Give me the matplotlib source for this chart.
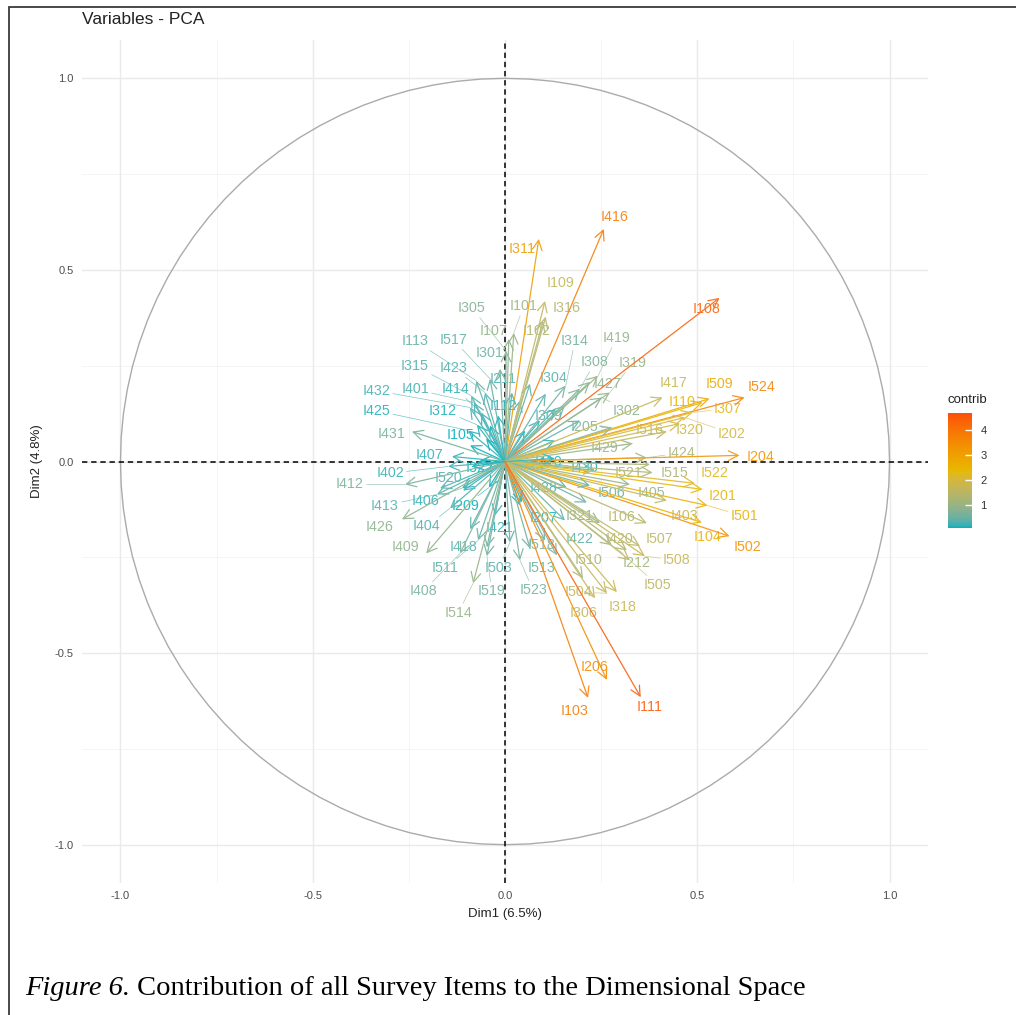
import numpy as np
import matplotlib
matplotlib.use("Agg")
import matplotlib.pyplot as plt
from matplotlib.colors import LinearSegmentedColormap, Normalize, to_rgb
from matplotlib.cm import ScalarMappable
from matplotlib.patches import Rectangle

# ---- data ---------------------------------------------------------------
# survey items: arrow tip on (Dim1, Dim2) and where the repelled label sits
items = ["I416", "I311", "I109", "I316", "I101", "I102", "I305", "I107",
         "I113", "I517", "I301", "I315", "I423", "I211", "I432", "I401",
         "I414", "I112", "I425", "I312", "I431", "I105", "I407", "I402",
         "I412", "I520", "I413", "I406", "I426", "I404", "I209", "I409",
         "I418", "I421", "I511", "I503", "I408", "I519", "I514", "I523",
         "I513", "I518", "I207", "I428", "I430", "I521", "I515", "I424",
         "I429", "I204", "I522", "I201", "I501", "I502", "I104", "I403",
         "I405", "I506", "I321", "I106", "I422", "I420", "I507", "I508",
         "I510", "I212", "I505", "I504", "I318", "I306", "I206", "I103",
         "I111", "I314", "I419", "I308", "I319", "I304", "I427", "I417",
         "I509", "I524", "I108", "I110", "I307", "I202", "I302", "I309",
         "I205", "I516", "I320", "I322", "I410"]
dim1 = [0.257, 0.088, 0.104, 0.106, 0.023, 0.099, 0.003, 0.010,
        -0.075, -0.039, -0.013, -0.088, -0.052, 0.018, -0.091, -0.081,
        -0.062, -0.018, -0.096, -0.073, -0.242, -0.049, -0.138, -0.148,
        -0.260, -0.169, -0.177, -0.112, -0.268, -0.143, -0.042, -0.205,
        -0.091, -0.026, -0.070, 0.013, -0.117, -0.047, -0.083, 0.039,
        0.065, 0.135, 0.044, 0.161, 0.122, 0.384, 0.377, 0.369,
        0.332, 0.610, 0.494, 0.514, 0.527, 0.584, 0.512, 0.421,
        0.325, 0.221, 0.247, 0.369, 0.156, 0.317, 0.351, 0.364,
        0.203, 0.278, 0.325, 0.265, 0.291, 0.234, 0.265, 0.216,
        0.353, 0.158, 0.242, 0.195, 0.273, 0.106, 0.221, 0.410,
        0.532, 0.623, 0.558, 0.514, 0.488, 0.468, 0.252, 0.132,
        0.278, 0.421, 0.455, -0.086, 0.130]
dim2 = [0.607, 0.581, 0.419, 0.378, 0.336, 0.367, 0.289, 0.320,
        0.211, 0.216, 0.242, 0.172, 0.180, 0.180, 0.141, 0.154,
        0.128, 0.120, 0.081, 0.096, 0.078, 0.060, 0.013, -0.013,
        -0.060, -0.070, -0.086, -0.070, -0.151, -0.122, -0.068, -0.240,
        -0.177, -0.141, -0.206, -0.211, -0.240, -0.247, -0.318, -0.258,
        -0.227, -0.245, -0.107, -0.068, -0.005, -0.029, -0.008, 0.010,
        0.047, 0.016, -0.057, -0.073, -0.115, -0.195, -0.159, -0.102,
        -0.060, -0.063, -0.161, -0.161, -0.154, -0.232, -0.221, -0.247,
        -0.305, -0.219, -0.258, -0.344, -0.341, -0.357, -0.570, -0.617,
        -0.615, 0.198, 0.224, 0.190, 0.180, 0.177, 0.208, 0.167,
        0.164, 0.167, 0.427, 0.154, 0.128, 0.115, 0.167, 0.138,
        0.089, 0.078, 0.099, -0.013, 0.008]
label_x = [0.286, 0.044, 0.145, 0.161, 0.049, 0.081, -0.086, -0.031,
           -0.234, -0.135, -0.039, -0.234, -0.135, -0.005, -0.335, -0.234,
           -0.130, -0.005, -0.335, -0.161, -0.294, -0.117, -0.197, -0.299,
           -0.403, -0.148, -0.312, -0.208, -0.325, -0.203, -0.104, -0.260,
           -0.109, -0.013, -0.156, -0.016, -0.213, -0.034, -0.122, 0.073,
           0.096, 0.094, 0.099, 0.099, 0.208, 0.322, 0.442, 0.460,
           0.260, 0.665, 0.545, 0.566, 0.623, 0.631, 0.527, 0.468,
           0.382, 0.278, 0.195, 0.304, 0.195, 0.299, 0.403, 0.447,
           0.216, 0.343, 0.397, 0.190, 0.306, 0.203, 0.234, 0.182,
           0.377, 0.182, 0.291, 0.234, 0.332, 0.125, 0.268, 0.439,
           0.558, 0.668, 0.525, 0.460, 0.579, 0.590, 0.317, 0.112,
           0.208, 0.377, 0.481, -0.065, 0.112]
label_y = [0.638, 0.555, 0.466, 0.401, 0.406, 0.341, 0.401, 0.341,
           0.315, 0.318, 0.284, 0.250, 0.245, 0.216, 0.185, 0.188,
           0.190, 0.146, 0.133, 0.133, 0.073, 0.068, 0.016, -0.031,
           -0.060, -0.044, -0.115, -0.102, -0.172, -0.169, -0.115, -0.224,
           -0.224, -0.174, -0.279, -0.279, -0.339, -0.339, -0.396, -0.336,
           -0.279, -0.219, -0.148, -0.068, -0.018, -0.029, -0.029, 0.023,
           0.036, 0.013, -0.031, -0.089, -0.143, -0.224, -0.198, -0.141,
           -0.083, -0.081, -0.141, -0.146, -0.201, -0.201, -0.201, -0.258,
           -0.258, -0.266, -0.323, -0.341, -0.380, -0.396, -0.536, -0.651,
           -0.641, 0.315, 0.323, 0.260, 0.258, 0.219, 0.201, 0.206,
           0.201, 0.195, 0.398, 0.154, 0.138, 0.073, 0.133, 0.120,
           0.089, 0.081, 0.081, -0.016, 0.000]

# arrows whose labels were dropped by the repel step
extra_dim1 = [0.065, 0.039, 0.091, 0.052, 0.156, 0.195, 0.130, -0.091,
              -0.039, -0.065, -0.109, -0.047, 0.039, 0.213, 0.234, 0.104]
extra_dim2 = [0.203, 0.159, 0.107, 0.081, 0.146, 0.107, 0.055, 0.042,
              0.094, 0.003, -0.076, -0.224, -0.115, -0.107, -0.023, -0.206]

dim1_pct = 6.5
dim2_pct = 4.8
contrib_range = (0.08, 4.68)
contrib_ticks = [1, 2, 3, 4]
gradient_cols = ["#00AFBB", "#E7B800", "#FC4E07"]

# ---- colour ramp interpolated in Lab, like ggplot's gradientn -----------
M = np.array([[0.4124, 0.3576, 0.1805],
              [0.2126, 0.7152, 0.0722],
              [0.0193, 0.1192, 0.9505]])
WHITE = np.array([0.95047, 1.0, 1.08883])


def to_lab(col):
    rgb = np.array(to_rgb(col))
    lin = np.where(rgb <= 0.04045, rgb / 12.92, ((rgb + 0.055) / 1.055) ** 2.4)
    xyz = M @ lin / WHITE
    f = np.where(xyz > 0.008856, np.cbrt(xyz), 7.787 * xyz + 16 / 116)
    return np.array([116 * f[1] - 16, 500 * (f[0] - f[1]), 200 * (f[1] - f[2])])


def from_lab(lab):
    fy = (lab[0] + 16) / 116
    f = np.array([fy + lab[1] / 500, fy, fy - lab[2] / 200])
    xyz = np.where(f ** 3 > 0.008856, f ** 3, (f - 16 / 116) / 7.787) * WHITE
    lin = np.clip(np.linalg.solve(M, xyz), 0, 1)
    rgb = np.where(lin <= 0.0031308, 12.92 * lin, 1.055 * lin ** (1 / 2.4) - 0.055)
    return np.clip(rgb, 0, 1)


labs = [to_lab(c) for c in gradient_cols]
ramp = []
for t in np.linspace(0, 1, 101):
    seg = min(int(t * 2), 1)
    u = t * 2 - seg
    ramp.append(from_lab(labs[seg] * (1 - u) + labs[seg + 1] * u))
cmap = LinearSegmentedColormap.from_list("contrib", ramp)
norm = Normalize(*contrib_range)


def contrib_of(x, y):
    # contribution (%) of a variable to the Dim1-Dim2 plane
    return 100 * (np.asarray(x) ** 2 + np.asarray(y) ** 2) / (dim1_pct + dim2_pct)


def soft(c):
    # the scanned figure looks a little washed out
    return tuple(0.88 * np.array(c[:3]) + 0.12)


# ---- figure ---------------------------------------------------------------
plt.rcParams['font.family'] = ['Liberation Sans', 'DejaVu Sans']
fig = plt.figure(figsize=(10.16, 10.15), dpi=100)
ax = fig.add_axes([82 / 1016, 1 - 883 / 1015, 846 / 1016, 843 / 1015])
ax.set_xlim(-1.1, 1.1)
ax.set_ylim(-1.1, 1.1)

for v in [-0.75, -0.25, 0.25, 0.75]:
    ax.axvline(v, color="#F2F2F2", lw=0.6, zorder=0)
    ax.axhline(v, color="#F2F2F2", lw=0.6, zorder=0)
for v in [-1, -0.5, 0, 0.5, 1]:
    ax.axvline(v, color="#EAEAEA", lw=1.0, zorder=0)
    ax.axhline(v, color="#EAEAEA", lw=1.0, zorder=0)

t = np.linspace(0, 2 * np.pi, 101)
ax.plot(np.cos(t), np.sin(t), color="#ABABAB", lw=1.0, zorder=1)
ax.axhline(0, color="black", lw=1.1, ls=(0, (3.5, 2.5)), zorder=1)
ax.axvline(0, color="black", lw=1.1, ls=(0, (3.5, 2.5)), zorder=1)

arrow_style = "->,head_length=0.7,head_width=0.35"

# unlabelled arrows
for x, y in zip(extra_dim1, extra_dim2):
    c = soft(cmap(norm(contrib_of(x, y))))
    ax.annotate("", xy=(x, y), xytext=(0, 0), zorder=3,
                arrowprops=dict(arrowstyle=arrow_style, color=c, lw=0.9,
                                shrinkA=0, shrinkB=0))

contrib = contrib_of(dim1, dim2)
for i, name in enumerate(items):
    c = soft(cmap(norm(contrib[i])))
    ax.annotate("", xy=(dim1[i], dim2[i]), xytext=(0, 0), zorder=3,
                arrowprops=dict(arrowstyle=arrow_style, color=c, lw=0.9,
                                shrinkA=0, shrinkB=0))
    far = np.hypot(label_x[i] - dim1[i], label_y[i] - dim2[i]) > 0.07
    leader = dict(arrowstyle="-", color=c, lw=0.5, alpha=0.8,
                  shrinkA=0, shrinkB=0) if far else None
    ax.annotate(name, xy=(dim1[i], dim2[i]), xytext=(label_x[i], label_y[i]),
                ha="center", va="center", fontsize=10.3, color=c, zorder=2,
                arrowprops=leader)

for s in ax.spines.values():
    s.set_visible(False)
ax.set_xticks([-1, -0.5, 0, 0.5, 1])
ax.set_yticks([-1, -0.5, 0, 0.5, 1])
ax.set_xticklabels(["-1.0", "-0.5", "0.0", "0.5", "1.0"])
ax.set_yticklabels(["-1.0", "-0.5", "0.0", "0.5", "1.0"])
ax.tick_params(length=0, labelsize=8, labelcolor="#4D4D4D", pad=6)
ax.set_xlabel(f"Dim1 ({dim1_pct}%)", fontsize=9.5, color="#222222", labelpad=5)
ax.set_ylabel(f"Dim2 ({dim2_pct}%)", fontsize=9.5, color="#222222", labelpad=8)

fig.text(82 / 1016, 1 - 20 / 1015, "Variables - PCA", fontsize=12.5,
         color="#222222", va="center", ha="left")

# colour bar legend
cax = fig.add_axes([948 / 1016, 1 - 528 / 1015, 24 / 1016, 115 / 1015])
cb = fig.colorbar(ScalarMappable(norm=norm, cmap=cmap), cax=cax, ticks=contrib_ticks)
cb.outline.set_visible(False)
cax.tick_params(length=5, width=1, color="white", direction="in",
                labelsize=8, labelcolor="#333333", pad=6)
fig.text(948 / 1016, 1 - 400 / 1015, "contrib", fontsize=9.5,
         color="#222222", va="center", ha="left")

# page frame and caption
fig.add_artist(Rectangle((9 / 1016, -0.1), 1.2, 1.1 - 7 / 1015,
                         transform=fig.transFigure, fill=False,
                         ec="#3A3A3A", lw=1.3))
cap1 = fig.text(25 / 1016, 1 - 995 / 1015, "Figure 6.", family="Liberation Serif",
                style="italic", fontsize=20.5, va="baseline", ha="left")
fig.canvas.draw()
bb = cap1.get_window_extent(fig.canvas.get_renderer())
fig.text(bb.x1 / fig.bbox.width, 1 - 995 / 1015,
         " Contribution of all Survey Items to the Dimensional Space",
         family="Liberation Serif", fontsize=20.5, va="baseline", ha="left")

fig.savefig("out.png", dpi=100)
